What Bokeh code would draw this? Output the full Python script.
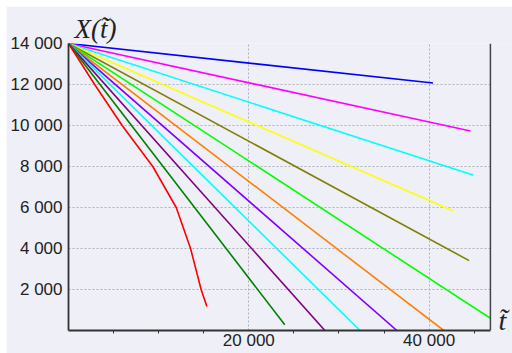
from bokeh.plotting import figure
from bokeh.models import Range1d, FixedTicker, Span, Label, BoxAnnotation
from bokeh.embed import file_html
from bokeh.resources import INLINE

# ---- data ----
x_ticks = [20000, 40000]
x_tick_labels = ["20 000", "40 000"]
x_minor = [5000, 10000, 15000, 25000, 30000, 35000, 45000]
y_ticks = [2000, 4000, 6000, 8000, 10000, 12000, 14000]
y_tick_labels = ["2 000", "4 000", "6 000", "8 000", "10 000", "12 000", "14 000"]
x_axis_end = 46800

X0 = 14000
line_colors = ["#0000FF", "#FF00FF", "#00FFFF", "#FFFF00", "#808000", "#00FF00",
               "#FF8000", "#8000FF", "#00FFFF", "#800080", "#008000"]
line_t_end = [40430, 44590, 44860, 42630, 44440, 48880, 41630, 36430, 32340, 28440, 23990]
line_x_end = [12070, 9730, 7580, 5840, 3410, 0, 0, 0, 0, 0, 280]

red_t = [0, 2900, 5950, 9350, 11950, 13540, 14710, 15350]
red_x = [14000, 12000, 10000, 8000, 6000, 4000, 2000, 1170]

BG = "#EFEFF8"

p = figure(width=506, height=347, output_backend="svg", toolbar_location=None,
           x_range=Range1d(0, 49250), y_range=Range1d(0, 14000),
           background_fill_color=BG, border_fill_color=BG,
           min_border_left=62, min_border_right=0, min_border_top=37, min_border_bottom=23,
           margin=(6, 0, 0, 6))
p.outline_line_color = None

p.title.text = "X(t\u0303)"
p.title.text_font = "Liberation Serif"
p.title.text_font_style = "italic"
p.title.text_font_size = "27px"
p.title.text_color = "#222222"
p.title.offset = 6
p.title.standoff = 0

for c, te, xe in zip(line_colors, line_t_end, line_x_end):
    p.line([0, te], [X0, xe], line_color=c, line_width=1.6)
p.line(red_t, red_x, line_color="#FF0000", line_width=1.6)

# axes
for ax in (p.xaxis[0], p.yaxis[0]):
    ax.axis_line_color = "#333333"
    ax.axis_line_width = 1.8
    ax.major_label_text_font = "Liberation Sans"
    ax.major_label_text_font_size = "17px"
    ax.major_label_text_color = "#222222"
    ax.major_tick_line_color = "#333333"
    ax.minor_tick_line_color = "#333333"

p.xaxis.bounds = (0, x_axis_end)
p.xaxis.ticker = FixedTicker(ticks=x_ticks, minor_ticks=x_minor)
p.xaxis.major_label_overrides = dict(zip(x_ticks, x_tick_labels))
p.xaxis.major_tick_in = 0
p.xaxis.major_tick_out = 0
p.xaxis.minor_tick_in = 0
p.xaxis.minor_tick_out = 3
p.xaxis.major_label_standoff = -3
p.xaxis.major_label_text_baseline = "hanging"

p.yaxis.ticker = FixedTicker(ticks=y_ticks)
p.yaxis.major_label_overrides = dict(zip(y_ticks, y_tick_labels))
p.yaxis.major_tick_in = 0
p.yaxis.major_tick_out = 0
p.yaxis.minor_tick_line_color = None
p.yaxis.major_label_standoff = 6

p.xgrid.ticker = FixedTicker(ticks=x_ticks)
p.ygrid.ticker = FixedTicker(ticks=y_ticks)
for g in (p.xgrid[0], p.ygrid[0]):
    g.grid_line_color = "#B0B0B8"
    g.grid_line_dash = "2 2"
    g.grid_line_width = 1

# area right of the plot box
p.add_layout(BoxAnnotation(left=x_axis_end, fill_color=BG, fill_alpha=1.0, line_color=None))
p.add_layout(Span(location=x_axis_end, dimension="height", line_color="#444444", line_width=1.5))
p.add_layout(Label(x=x_axis_end, y=500, x_offset=8, text="t\u0303",
                   text_font="Liberation Serif", text_font_style="italic",
                   text_font_size="28px", text_color="#222222",
                   text_baseline="middle"))

open("out.html", "w").write(file_html(p, INLINE))
